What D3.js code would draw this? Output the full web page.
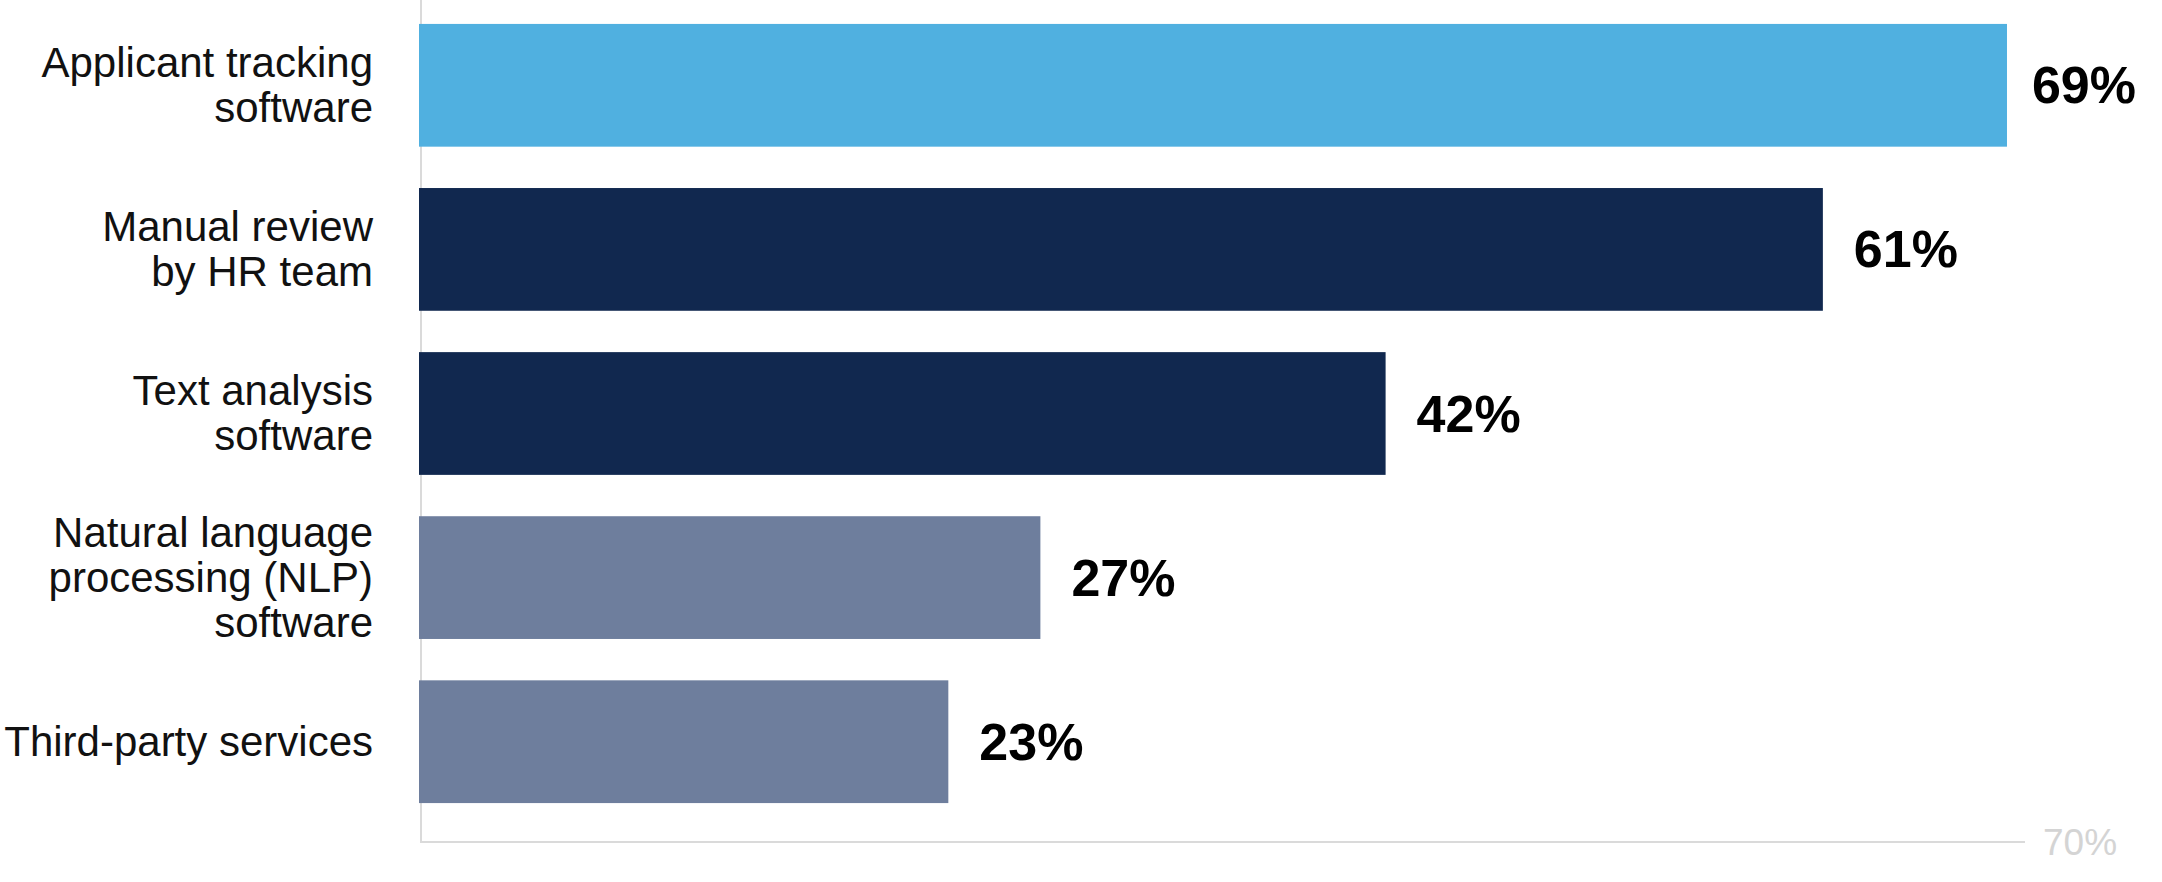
<!DOCTYPE html>
<html>
<head>
<meta charset="utf-8">
<script src="https://cdn.jsdelivr.net/npm/d3@7"></script>
<style>
  html, body { margin: 0; padding: 0; background: #ffffff; }
  svg { display: block; }
</style>
</head>
<body>
<svg id="chart" width="2162" height="882"></svg>
<script>
const categories = [
  "Applicant tracking software",
  "Manual review by HR team",
  "Text analysis software",
  "Natural language processing (NLP) software",
  "Third-party services"
];
const labelLines = [
  ["Applicant tracking", "software"],
  ["Manual review", "by HR team"],
  ["Text analysis", "software"],
  ["Natural language", "processing (NLP)", "software"],
  ["Third-party services"]
];
const values = [69, 61, 42, 27, 23];
const barColors = ["#50b0e0", "#11284f", "#11284f", "#6e7e9d", "#6e7e9d"];
const axisMax = 70;
const axisTickLabels = ["70%"];

const svg = d3.select("#chart");

const x = d3.scaleLinear().domain([0, axisMax]).range([419, 2030]);
const y = d3.scaleBand()
  .domain(categories)
  .range([3.25, 823.75])
  .paddingInner(0.252)
  .paddingOuter(0.126);

// axis lines
const axisColor = "#dadada";
svg.append("line")
  .attr("x1", 421).attr("x2", 421)
  .attr("y1", 0).attr("y2", 843)
  .attr("stroke", axisColor).attr("stroke-width", 2);
svg.append("line")
  .attr("x1", 420).attr("x2", x(axisMax) - 5)
  .attr("y1", 842).attr("y2", 842)
  .attr("stroke", axisColor).attr("stroke-width", 2);

svg.append("text")
  .attr("x", x(axisMax) + 13)
  .attr("y", 855)
  .attr("font-family", "'Liberation Sans', Arial, sans-serif")
  .attr("font-size", 37)
  .attr("fill", "#d4d4d4")
  .text(axisTickLabels[0]);

// bars
svg.selectAll("rect.bar")
  .data(values)
  .join("rect")
  .attr("class", "bar")
  .attr("x", x(0))
  .attr("y", (d, i) => y(categories[i]))
  .attr("width", d => x(d) - x(0))
  .attr("height", y.bandwidth())
  .attr("fill", (d, i) => barColors[i]);

// value labels (kept inside the right edge)
const maxRight = 2136;
svg.selectAll("text.val")
  .data(values)
  .join("text")
  .attr("class", "val")
  .attr("y", (d, i) => y(categories[i]) + y.bandwidth() / 2 + 18)
  .attr("font-family", "'Liberation Sans', Arial, sans-serif")
  .attr("font-weight", "bold")
  .attr("font-size", 52)
  .attr("fill", "#000")
  .text(d => d + "%")
  .attr("x", function(d) {
    const w = this.getComputedTextLength();
    return Math.min(x(d) + 31, maxRight - w);
  });

// category labels
const lineH = 45;
const catG = svg.selectAll("text.cat")
  .data(labelLines)
  .join("text")
  .attr("class", "cat")
  .attr("text-anchor", "end")
  .attr("font-family", "'Liberation Sans', Arial, sans-serif")
  .attr("font-size", 42)
  .attr("fill", "#111");

catG.each(function(lines, i) {
  const cy = y(categories[i]) + y.bandwidth() / 2;
  const firstBaseline = cy - (lines.length - 1) * lineH / 2 + 14;
  d3.select(this).selectAll("tspan")
    .data(lines)
    .join("tspan")
    .attr("x", 373)
    .attr("y", (l, j) => firstBaseline + j * lineH)
    .text(l => l);
});
</script>
</body>
</html>
